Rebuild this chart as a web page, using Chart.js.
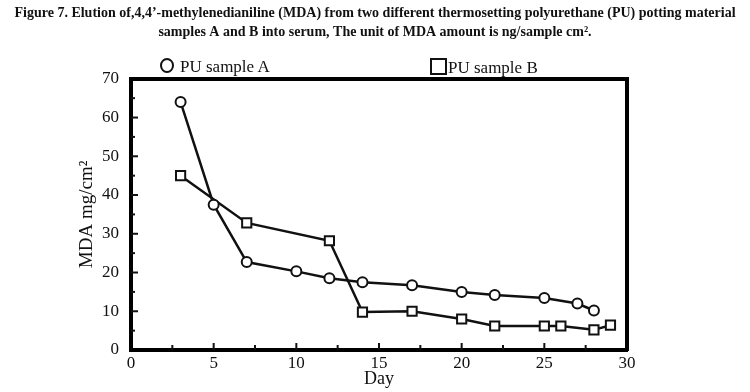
<!DOCTYPE html>
<html>
<head>
<meta charset="utf-8">
<script src="https://cdn.jsdelivr.net/npm/chart.js@4/dist/chart.umd.min.js"></script>
<style>
  body { margin: 0; background: #fff; }
  #wrap { position: relative; width: 750px; height: 392px; }
  .leg { position: absolute; font-family: "Liberation Serif", serif; font-size: 17px; color: #111; white-space: nowrap; }
  .circ { display: inline-block; width: 10px; height: 11px; border: 2px solid #111; border-radius: 50%; vertical-align: -1px; margin-right: 6px; }
  .sq { display: inline-block; width: 13px; height: 13px; border: 2px solid #111; vertical-align: -2px; margin-right: 1px; }
</style>
</head>
<body>
<div id="wrap">
  <canvas id="chart" width="750" height="392"></canvas>
  <div class="leg" style="left:160px; top:57px;"><span class="circ"></span>PU sample A</div>
  <div class="leg" style="left:430px; top:58px;"><span class="sq"></span>PU sample B</div>
</div>
<script>
// サンプルA (丸)
const daysA = [3, 5, 7, 10, 12, 14, 17, 20, 22, 25, 27, 28];
const mdaA = [64, 37.5, 22.7, 20.3, 18.5, 17.5, 16.7, 15, 14.2, 13.4, 12, 10.2];
// サンプルB (四角)
const daysB = [3, 7, 12, 14, 17, 20, 22, 25, 26, 28, 29];
const mdaB = [45, 32.8, 28.2, 9.8, 10, 8, 6.2, 6.2, 6.2, 5.2, 6.4];

const titleLines = [
    "Figure 7. Elution of,4,4’-methylenedianiline (MDA) from two different thermosetting polyurethane (PU) potting material",
    "samples A and B into serum, The unit of MDA amount is ng/sample cm².",
];

const serif = "'Liberation Serif', 'DejaVu Serif', serif";

// 内向きの目盛り
const innerTicks = {
    id: "innerTicks",
    afterDraw(chart) {
        const ctx = chart.ctx;
        const x = chart.scales.x, y = chart.scales.y;
        const area = chart.chartArea;
        ctx.save();
        ctx.strokeStyle = "#111";
        ctx.lineWidth = 2;
        for (let v = 2.5; v < 30; v += 2.5) {
            let px = x.getPixelForValue(v);
            let len = (v % 5 === 0) ? 7 : 5;
            ctx.beginPath();
            ctx.moveTo(px, area.bottom);
            ctx.lineTo(px, area.bottom - len);
            ctx.stroke();
        }
        for (let v = 5; v < 70; v += 5) {
            let py = y.getPixelForValue(v);
            let len = (v % 10 === 0) ? 7 : 4;
            ctx.beginPath();
            ctx.moveTo(area.left, py);
            ctx.lineTo(area.left + len, py);
            ctx.stroke();
        }
        ctx.restore();
    }
};

const frameAxis = {
    display: true,
    grid: { display: false, drawTicks: false },
    border: { display: true, color: "#000", width: 4 },
    ticks: { display: false },
};

new Chart(document.getElementById("chart"), {
    type: "line",
    data: {
        datasets: [
            {
                label: "PU sample A",
                data: daysA.map((d, i) => ({ x: d, y: mdaA[i] })),
                borderColor: "#111",
                borderWidth: 2.5,
                pointStyle: "circle",
                pointRadius: 5,
                pointBorderWidth: 2,
                pointBackgroundColor: "#fff",
                pointBorderColor: "#111",
                tension: 0
            },
            {
                label: "PU sample B",
                data: daysB.map((d, i) => ({ x: d, y: mdaB[i] })),
                borderColor: "#111",
                borderWidth: 2.5,
                pointStyle: "rect",
                pointRadius: 6.5,
                pointBorderWidth: 2,
                pointBackgroundColor: "#fff",
                pointBorderColor: "#111",
                tension: 0
            }
        ]
    },
    options: {
        responsive: false,
        animation: false,
        layout: { padding: 0 },
        plugins: {
            legend: { display: false },
            tooltip: { enabled: false },
            title: {
                display: true,
                text: titleLines,
                color: "#111",
                font: { family: serif, size: 14, weight: "bold", lineHeight: 1.35 },
                padding: { top: 4, bottom: 35 }
            }
        },
        scales: {
            x: {
                type: "linear",
                min: 0, max: 30,
                grid: { display: false, drawTicks: false },
                border: { color: "#000", width: 4 },
                ticks: { stepSize: 5, color: "#111", padding: 3, font: { family: serif, size: 17 } },
                title: { display: true, text: "Day", color: "#111", padding: { top: 2, bottom: 2 }, font: { family: serif, size: 18 } },
                afterFit(s) { s.height = 42; }
            },
            y: {
                min: 0, max: 70,
                grid: { display: false, drawTicks: false },
                border: { color: "#000", width: 4 },
                ticks: { stepSize: 10, color: "#111", padding: 12, font: { family: serif, size: 17 } },
                title: { display: true, text: "MDA mg/cm²", color: "#111", padding: { top: 76, bottom: 0 }, font: { family: serif, size: 19 } },
                afterFit(s) { s.width = 131; }
            },
            x2: Object.assign({ position: "top", afterFit(s) { s.height = 2; } }, frameAxis),
            y2: Object.assign({ position: "right", afterFit(s) { s.width = 123; } }, frameAxis)
        }
    },
    plugins: [innerTicks]
});
</script>
</body>
</html>
